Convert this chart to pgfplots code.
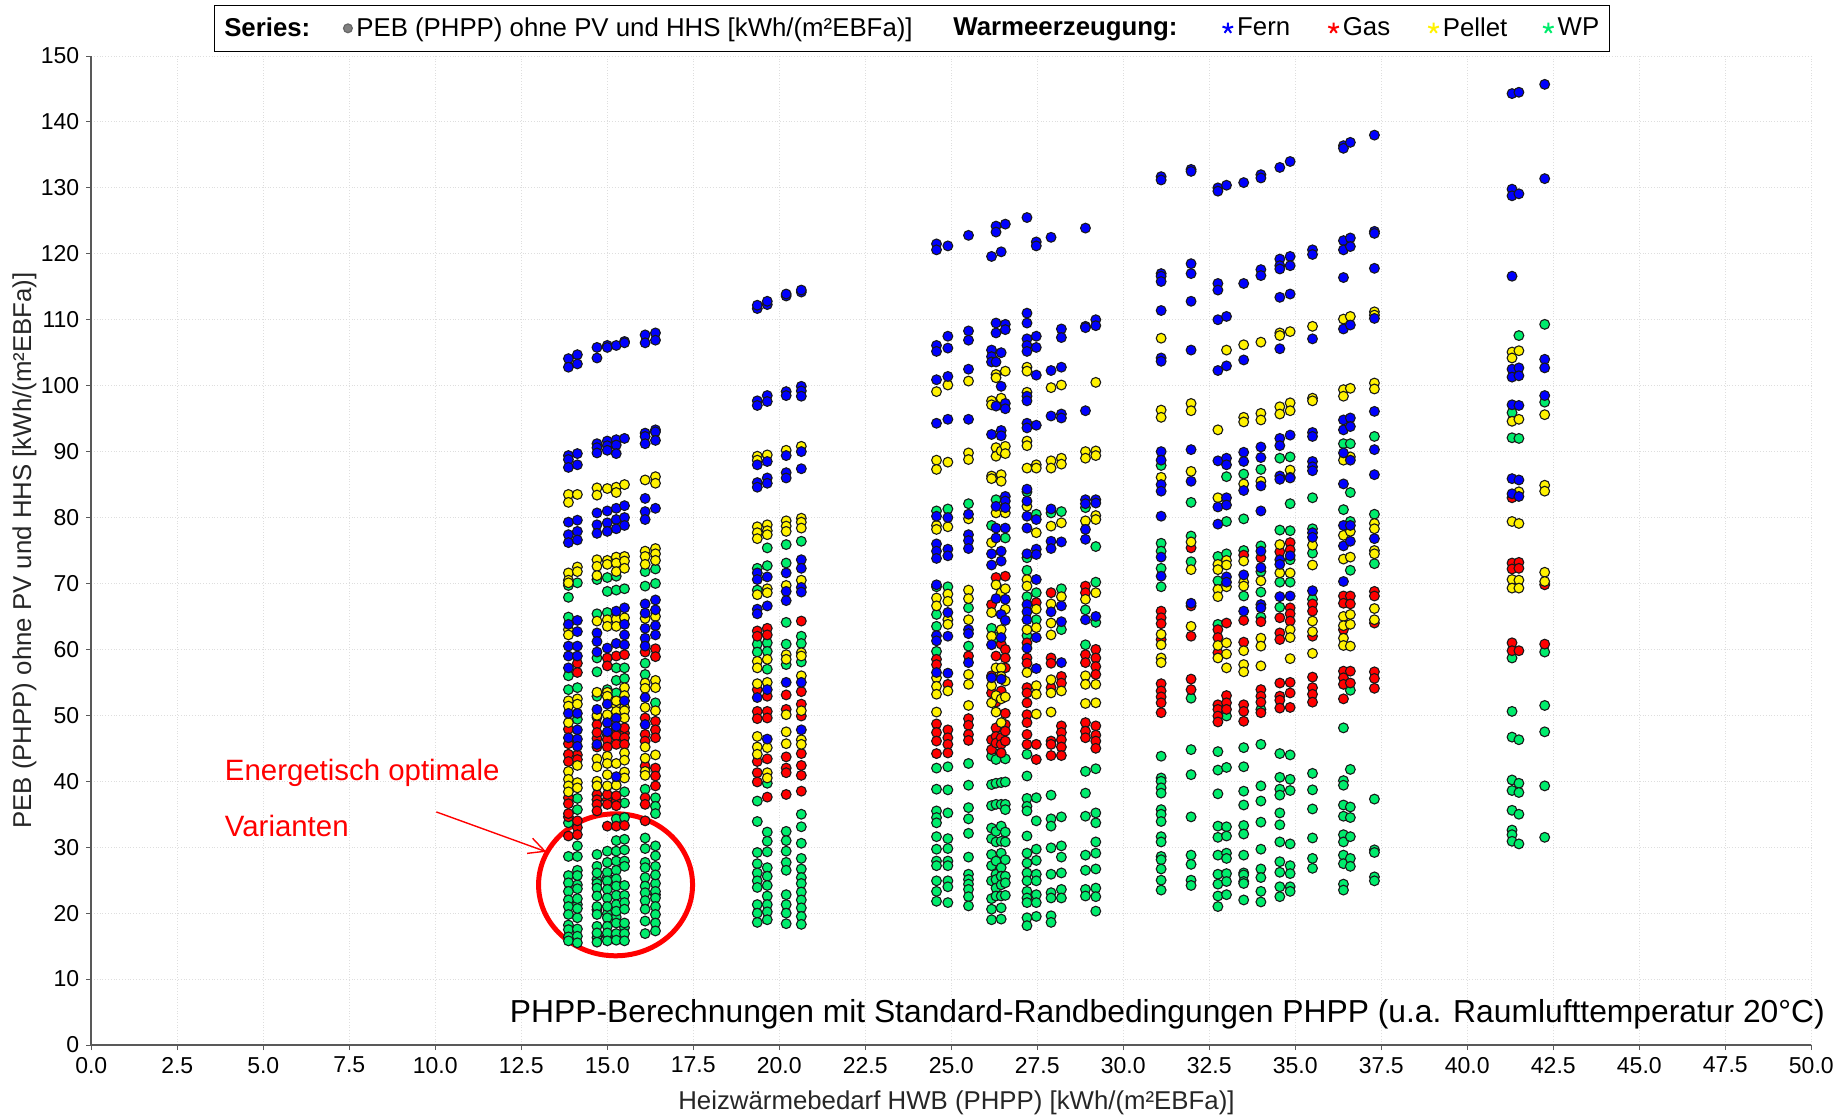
\documentclass[border=0pt]{standalone}
\usepackage{fontspec}
\setmainfont{Liberation Sans}
\usepackage{pgfplots}
\pgfplotsset{compat=1.18}
\usetikzlibrary{arrows.meta}
\definecolor{wpgreen}{HTML}{00EC6C}
\pgfplotsset{dots/.style={only marks,mark=*,mark size=2.45pt,forget plot,
  mark options={draw=black!90,line width=0.55pt,fill=#1}}}
\newcommand{\gap}[1]{\hspace{#1}\mbox{}}
\begin{document}
\begin{tikzpicture}
\path[use as bounding box] (-45.65pt,-35.5pt) rectangle (871.85pt,522.5pt);
\begin{axis}[at={(0,0)},anchor=south west,scale only axis,width=860pt,height=494.5pt,
  xmin=0,xmax=50,ymin=0,ymax=150,clip=false,
  axis lines=left,axis line style={-,draw=black!65,line width=0.8pt},
  xtick distance=2.5,ytick distance=10,
  tick style={draw=black!65,line width=0.5pt},tick align=outside,major tick length=2.5pt,
  grid=major,grid style={densely dotted,draw=black!13,line width=0.5pt},
  font=\fontsize{11.5}{14}\selectfont,
  xticklabel style={/pgf/number format/.cd,fixed,fixed zerofill,precision=1,assume math mode=true},
  yticklabel style={/pgf/number format/.cd,fixed,assume math mode=true},
  xlabel={Heizwärmebedarf HWB (PHPP) [kWh/(m²EBFa)]},
  ylabel={PEB (PHPP) ohne PV und HHS [kWh/(m²EBFa)]},
  x label style={at={(axis description cs:0.503,-0.058)},anchor=center,font=\fontsize{12.9}{15}\selectfont,text=black!85},
  y label style={at={(axis description cs:-0.0388,0.5)},anchor=center,font=\fontsize{12.9}{15}\selectfont,text=black!85},
  legend columns=7,
  legend style={at={(axis description cs:0.477,1.028)},anchor=center,draw=black,line width=0.6pt,
    font=\fontsize{12.9}{15}\selectfont,inner xsep=3pt,inner ysep=4pt,
    /tikz/every even column/.style={column sep=0pt}},
  legend cell align=left,
]
\addlegendimage{empty legend}\addlegendentry{\textbf{Series:}\gap{14.6pt}}
\addlegendimage{only marks,mark=*,mark size=2.2pt,mark options={fill=gray,draw=black!60}}\addlegendentry{PEB (PHPP) ohne PV und HHS [kWh/(m²EBFa)]\gap{16.4pt}}
\addlegendimage{empty legend}\addlegendentry{\textbf{Warmeerzeugung:}\gap{20.5pt}}
\addlegendimage{only marks,mark=star,mark size=2.8pt,blue,line width=1pt}\addlegendentry{Fern\gap{17pt}}
\addlegendimage{only marks,mark=star,mark size=2.8pt,red,line width=1pt}\addlegendentry{Gas\gap{17pt}}
\addlegendimage{only marks,mark=star,mark size=2.8pt,yellow,line width=1pt}\addlegendentry{Pellet\gap{15.8pt}}
\addlegendimage{only marks,mark=star,mark size=2.8pt,wpgreen,line width=1pt}\addlegendentry{WP}

% WP
\addplot[dots=wpgreen] coordinates {
(14.7,25.1)(14.7,24.5)(15,25.5)(15,19.9)(15.26,24.7)(15.26,19.4)(15,16.5)(14.7,16.3)(14.7,20.5)(15.5,17.8)(16.4,22.8)(16.4,24.5)(14.13,24.3)(14.13,21.3)(14.13,19.3)
(13.87,69.7)(13.87,67.9)(13.87,64.9)(13.87,56)(13.87,53.9)(13.87,33.7)(13.87,28.6)(13.87,25.7)(13.87,24.6)(13.87,23.3)(13.87,22)(13.87,21)(13.87,19.8)(13.87,18.2)(13.87,17.5)(13.87,16.4)(13.87,15.8)
(14.13,70.1)(14.13,54.2)(14.13,49.4)(14.13,37.4)(14.13,35.7)(14.13,30.2)(14.13,28.6)(14.13,26.5)(14.13,25.7)(14.13,23.7)(14.13,22.2)(14.13,20.7)(14.13,17.6)(14.13,16.5)(14.13,15.5)
(14.7,70.6)(14.7,65.4)(14.7,58.7)(14.7,56.6)(14.7,52.9)(14.7,28.9)(14.7,27.1)(14.7,26.1)(14.7,23.8)(14.7,22.6)(14.7,21)(14.7,19.8)(14.7,18)(14.7,17)(14.7,15.6)
(15,70.9)(15,68.8)(15,65.6)(15,53.9)(15,29.4)(15,27.7)(15,26.2)(15,24.9)(15,23.6)(15,22.3)(15,21)(15,19.3)(15,18)(15,17)(15,15.8)
(15.26,71.1)(15.26,69)(15.26,57.2)(15.26,55.3)(15.26,53.4)(15.26,34.3)(15.26,31)(15.26,29.4)(15.26,27.9)(15.26,26.5)(15.26,25.2)(15.26,24.1)(15.26,22.7)(15.26,21.3)(15.26,20.3)(15.26,18.5)(15.26,16.9)(15.26,15.9)
(15.5,69.2)(15.5,57.2)(15.5,55.6)(15.5,38.4)(15.5,36.7)(15.5,34.5)(15.5,31.2)(15.5,29.6)(15.5,27.9)(15.5,27.1)(15.5,24.2)(15.5,22.7)(15.5,21.6)(15.5,20.6)(15.5,18.5)(15.5,16.9)(15.5,15.8)
(16.1,71.8)(16.1,69.6)(16.1,57.9)(16.1,56.2)(16.1,38.8)(16.1,31.4)(16.1,29.8)(16.1,27.7)(16.1,26.9)(16.1,25.4)(16.1,24.1)(16.1,23.1)(16.1,21.9)(16.1,20.6)(16.1,18.8)(16.1,16.9)
(16.4,72.2)(16.4,70)(16.4,51.9)(16.4,37.5)(16.4,36.2)(16.4,35.1)(16.4,30.2)(16.4,28.7)(16.4,27.1)(16.4,25.8)(16.4,23.3)(16.4,22.3)(16.4,21)(16.4,19.8)(16.4,18.5)(16.4,17.3)
(19.36,72.3)(19.36,69)(19.36,60.8)(19.36,59.6)(19.36,37)(19.36,33.9)(19.36,29.2)(19.36,27.5)(19.36,26.1)(19.36,24.9)(19.36,23.9)(19.36,21.3)(19.36,20)(19.36,18.6)
(19.65,75.4)(19.65,72.7)(19.65,61)(19.65,59.7)(19.65,57)(19.65,39.7)(19.65,32.3)(19.65,30.9)(19.65,29.3)(19.65,26.9)(19.65,25.6)(19.65,24.2)(19.65,22.6)(19.65,21.3)(19.65,20.2)(19.65,19)
(20.2,75.9)(20.2,73.1)(20.2,64.1)(20.2,60.8)(20.2,57.7)(20.2,32.4)(20.2,31)(20.2,29.4)(20.2,27.7)(20.2,26.5)(20.2,22.8)(20.2,21.3)(20.2,20)(20.2,18.4)
(20.64,76.4)(20.64,62)(20.64,60.9)(20.64,58.1)(20.64,35)(20.64,33.1)(20.64,30.6)(20.64,28.3)(20.64,26.7)(20.64,25.4)(20.64,24.5)(20.64,23.2)(20.64,22)(20.64,20.8)(20.64,19.5)(20.64,18.3)
(24.57,81)(24.57,69.5)(24.57,65.3)(24.57,63.5)(24.57,59.7)(24.57,42)(24.57,38.8)(24.57,35.5)(24.57,34.5)(24.57,33.7)(24.57,31.6)(24.57,29.7)(24.57,27.9)(24.57,27.2)(24.57,24.9)(24.57,23.3)(24.57,21.8)
(24.9,81.3)(24.9,69.5)(24.9,42.2)(24.9,38.7)(24.9,35.2)(24.9,31.3)(24.9,29.8)(24.9,27.9)(24.9,27.2)(24.9,24.9)(24.9,24)(24.9,21.6)
(25.5,82.1)(25.5,66.3)(25.5,60.5)(25.5,42.7)(25.5,39.4)(25.5,36)(25.5,34.3)(25.5,32.1)(25.5,28.5)(25.5,25.9)(25.5,25.1)(25.5,24.4)(25.5,23.6)(25.5,22.5)(25.5,21.1)
(26.17,78.8)(26.17,63.2)(26.17,43.8)(26.17,39.5)(26.17,36.3)(26.17,32.9)(26.17,31.3)(26.17,28.9)(26.17,27.2)(26.17,24.9)(26.17,22.2)(26.17,20.6)(26.17,19)
(26.3,82.7)(26.3,61.8)(26.3,43.3)(26.3,39.7)(26.3,36.5)(26.3,32.4)(26.3,30.8)(26.3,27.9)(26.3,25.9)(26.3,25.1)(26.3,23.8)(26.3,22.6)
(26.45,39.8)(26.45,36.5)(26.45,33.2)(26.45,30.9)(26.45,29.1)(26.45,26.9)(26.45,25.6)(26.45,24.3)(26.45,22.6)(26.45,20.8)(26.45,19.1)
(26.57,76.9)(26.57,43.4)(26.57,39.9)(26.57,36.5)(26.57,35.7)(26.57,32.3)(26.57,30.8)(26.57,28.1)(26.57,25.6)(26.57,24.6)(26.57,22.7)
(27.2,83.9)(27.2,73.9)(27.2,72)(27.2,68)(27.2,62.1)(27.2,44.1)(27.2,40.8)(27.2,37.4)(27.2,36.2)(27.2,35.5)(27.2,31.7)(27.2,29.1)(27.2,27.6)(27.2,26.1)(27.2,24.9)(27.2,23.3)(27.2,22.3)(27.2,21.6)(27.2,19.3)(27.2,18.1)
(27.47,80.5)(27.47,68.6)(27.47,64.5)(27.47,37.5)(27.47,34)(27.47,29.7)(27.47,28)(27.47,25.9)(27.47,24.9)(27.47,22.8)(27.47,21.6)(27.47,19.5)
(27.9,80.7)(27.9,37.9)(27.9,34.3)(27.9,33.2)(27.9,29.9)(27.9,25.9)(27.9,23.1)(27.9,22.3)(27.9,19.6)(27.9,18.6)
(28.2,80.9)(28.2,69.2)(28.2,63)(28.2,34.6)(28.2,30.2)(28.2,28.5)(28.2,26.1)(28.2,23.6)(28.2,22.3)
(28.9,81.5)(28.9,66)(28.9,60.7)(28.9,41.5)(28.9,38.2)(28.9,34.7)(28.9,28.8)(28.9,26.5)(28.9,23.6)(28.9,22.6)
(29.2,75.6)(29.2,70.2)(29.2,64.1)(29.2,41.9)(29.2,35.2)(29.2,33.7)(29.2,30.8)(29.2,29.1)(29.2,26.7)(29.2,23.8)(29.2,22.5)(29.2,20.3)
(31.1,87.9)(31.1,76.1)(31.1,74.9)(31.1,72.3)(31.1,69.5)(31.1,43.8)(31.1,40.5)(31.1,40)(31.1,39)(31.1,38.2)(31.1,35.7)(31.1,35)(31.1,33.9)(31.1,31.6)(31.1,30.8)(31.1,28.6)(31.1,28.1)(31.1,26.7)(31.1,25)(31.1,23.5)
(31.97,82.3)(31.97,77.2)(31.97,73.3)(31.97,52.6)(31.97,44.8)(31.97,41)(31.97,34.6)(31.97,28.8)(31.97,27.4)(31.97,25)(31.97,24.2)
(32.75,74.1)(32.75,70.4)(32.75,63.8)(32.75,44.5)(32.75,41.7)(32.75,38.1)(32.75,33.2)(32.75,31.5)(32.75,28.8)(32.75,25.9)(32.75,24.4)(32.75,22.6)(32.75,21)
(33,86.2)(33,79.4)(33,74.5)(33,49.9)(33,42.1)(33,33.1)(33,31.7)(33,29.1)(33,28.3)(33,26)(33,24.8)(33,22.8)
(33.5,86.6)(33.5,79.8)(33.5,75)(33.5,68.1)(33.5,45.1)(33.5,42.2)(33.5,38.5)(33.5,36.4)(33.5,33.3)(33.5,32)(33.5,28.8)(33.5,26.1)(33.5,25.8)(33.5,24.8)(33.5,24.5)(33.5,22)
(34,87.3)(34,75.7)(34,71.8)(34,68.7)(34,64.9)(34,50.9)(34,45.6)(34,39.3)(34,37)(34,33.8)(34,29.7)(34,26.7)(34,25.4)(34,23.3)(34,21.7)
(34.55,89)(34.55,78.1)(34.55,70.2)(34.55,66.4)(34.55,44.2)(34.55,40.6)(34.55,38.8)(34.55,37.9)(34.55,35.2)(34.55,33.4)(34.55,30.8)(34.55,27.8)(34.55,26.2)(34.55,24)(34.55,22.5)
(34.85,89.2)(34.85,82.1)(34.85,78)(34.85,73.6)(34.85,70.2)(34.85,44)(34.85,40.3)(34.85,38.6)(34.85,30.5)(34.85,27.2)(34.85,26)(34.85,24)(34.85,23.3)
(35.5,83)(35.5,78.3)(35.5,74.6)(35.5,67.6)(35.5,41.2)(35.5,38.7)(35.5,35.8)(35.5,31.4)(35.5,28.3)(35.5,26.8)
(36.4,91.2)(36.4,81.2)(36.4,48.1)(36.4,40.1)(36.4,39.4)(36.4,36.4)(36.4,34.7)(36.4,31.9)(36.4,30.8)(36.4,28.8)(36.4,27.5)(36.4,24.4)(36.4,23.5)
(36.6,91.2)(36.6,83.8)(36.6,79.4)(36.6,72)(36.6,53.8)(36.6,41.8)(36.6,36.1)(36.6,34.5)(36.6,31.6)(36.6,28.3)(36.6,27.1)
(37.3,92.3)(37.3,80.5)(37.3,73)(37.3,37.3)(37.3,29.6)(37.3,29.2)(37.3,25.5)(37.3,24.9)
(41.3,95.9)(41.3,92.1)(41.3,58.7)(41.3,50.6)(41.3,46.7)(41.3,40.2)(41.3,38.6)(41.3,35.6)(41.3,32.6)(41.3,31.9)(41.3,30.9)
(41.5,107.6)(41.5,92)(41.5,46.3)(41.5,39.7)(41.5,38.3)(41.5,35)(41.5,30.5)
(42.25,109.3)(42.25,97.5)(42.25,59.6)(42.25,51.5)(42.25,47.5)(42.25,39.3)(42.25,31.5)
};
% Gas
\addplot[dots=red] coordinates {
(14.7,46.5)(14.7,49.7)(15,47)(15.26,47.9)(15.5,47.3)(13.87,37.5)(13.87,34.6)(14.13,33)(14.13,44)(14.7,38)(15,37.2)(15.26,37)
(13.87,47.9)(13.87,45.7)(13.87,44.1)(13.87,43)(13.87,36.6)(13.87,35.1)(13.87,31.7)
(14.13,57.9)(14.13,56.5)(14.13,43.3)(14.13,34)(14.13,31.9)
(14.7,48.6)(14.7,47.4)(14.7,45.2)(14.7,37.2)(14.7,36.5)(14.7,35.5)
(15,58.7)(15,57.5)(15,46.3)(15,45.2)(15,38)(15,36.5)(15,33.2)
(15.26,59)(15.26,46.9)(15.26,45.6)(15.26,37.8)(15.26,36.3)(15.26,33.2)
(15.5,59.2)(15.5,48.1)(15.5,46.6)(15.5,45.6)(15.5,33.3)
(16.1,59.6)(16.1,49.6)(16.1,47.1)(16.1,46.1)(16.1,42.3)(16.1,37.5)(16.1,36.5)(16.1,34)
(16.4,60.1)(16.4,58.9)(16.4,49.1)(16.4,47.8)(16.4,46.6)(16.4,42)(16.4,40.8)(16.4,39.3)
(19.36,62.8)(19.36,62)(19.36,53.9)(19.36,50.6)(19.36,49.5)(19.36,43)(19.36,41.3)(19.36,39.9)
(19.65,63.2)(19.65,62.2)(19.65,52.9)(19.65,50.6)(19.65,49.6)(19.65,43.4)(19.65,37.6)
(20.2,53.1)(20.2,50.9)(20.2,43.7)(20.2,42)(20.2,41.3)(20.2,38)
(20.64,64.3)(20.64,53.6)(20.64,51.7)(20.64,49.9)(20.64,44.2)(20.64,42.4)(20.64,40.9)(20.64,38.5)
(24.57,58.5)(24.57,57.7)(24.57,48.7)(24.57,47.4)(24.57,46.1)(24.57,44.2)
(24.9,54.7)(24.9,47.8)(24.9,46.6)(24.9,45.6)(24.9,44.3)
(25.5,59)(25.5,49.5)(25.5,48.5)(25.5,47.1)(25.5,46.2)
(26.17,66.8)(26.17,53.4)(26.17,46.3)(26.17,44.8)(26.17,56)
(26.3,70.9)(26.3,59)(26.3,52)(26.3,48.1)(26.3,46.8)(26.3,45.8)
(26.45,53.7)(26.45,46.6)(26.45,45.6)(26.45,44.3)(26.45,60.8)
(26.57,71.1)(26.57,60)(26.57,58.7)(26.57,57.2)(26.57,50.3)(26.57,48.6)(26.57,47.6)(26.57,46.1)
(27.2,61)(27.2,58.7)(27.2,57.9)(27.2,54.2)(27.2,53.4)(27.2,51.9)(27.2,50.1)(27.2,48.9)(27.2,47.1)(27.2,45.6)
(27.47,67.1)(27.47,45.6)(27.47,43.3)
(27.9,68.6)(27.9,58.7)(27.9,57.9)(27.9,54.2)(27.9,46.1)(27.9,45.6)(27.9,43.9)
(28.2,55.9)(28.2,54.9)(28.2,48.4)(28.2,47.4)(28.2,46.3)(28.2,45.2)(28.2,43.9)
(28.9,69.6)(28.9,68.6)(28.9,59.2)(28.9,58)(28.9,48.9)(28.9,47.6)(28.9,46.6)
(29.2,60)(29.2,58.7)(29.2,57.4)(29.2,56.2)(29.2,48.4)(29.2,47)(29.2,46.1)(29.2,45)
(31.1,65.8)(31.1,64.8)(31.1,63.9)(31.1,61.5)(31.1,54.8)(31.1,53.7)(31.1,52.8)(31.1,51.9)(31.1,50.4)
(31.97,75.4)(31.97,66.6)(31.97,62)(31.97,55.5)(31.97,53.9)
(32.75,63)(32.75,61.8)(32.75,59.5)(32.75,51.6)(32.75,50.9)(32.75,49.9)(32.75,49)
(33,64)(33,53)(33,51.9)(33,50.9)
(33.5,74.3)(33.5,64.4)(33.5,61.1)(33.5,51.6)(33.5,50.6)(33.5,49.1)
(34,73.9)(34,64.2)(34,53.9)(34,52.9)(34,52)(34,50.4)
(34.55,74.8)(34.55,64.8)(34.55,62.5)(34.55,61.5)(34.55,54.9)(34.55,52.9)(34.55,52.3)(34.55,51.1)
(34.85,76.2)(34.85,75.1)(34.85,66.3)(34.85,65.4)(34.85,64.3)(34.85,55)(34.85,53.4)(34.85,51.2)
(35.5,66.9)(35.5,65.8)(35.5,62)(35.5,55.8)(35.5,54.2)(35.5,53.2)(35.5,52)
(36.4,68.1)(36.4,67)(36.4,63)(36.4,56.7)(36.4,55.7)(36.4,54.7)(36.4,52.5)
(36.6,68.1)(36.6,66.9)(36.6,56.7)(36.6,54.9)
(37.3,68.8)(37.3,68.1)(37.3,64)(37.3,56.6)(37.3,55.6)(37.3,54.1)
(41.3,83)(41.3,73.1)(41.3,72.2)(41.3,61)(41.3,59.8)
(41.5,73.2)(41.5,72.3)(41.5,59.8)
(42.25,69.8)(42.25,60.8)
};
% Pellet
\addplot[dots=yellow] coordinates {
(14.7,53.5)(15,53.5)(15.26,51.5)(15.5,51.2)
(13.87,83.5)(13.87,82.3)(13.87,71.6)(13.87,70.5)(13.87,70.1)(13.87,63)(13.87,62.2)(13.87,52.2)(13.87,51.4)(13.87,48.9)(13.87,41.5)(13.87,40.3)(13.87,39.3)(13.87,38.4)
(14.13,83.5)(14.13,72.5)(14.13,71.8)(14.13,52.5)(14.13,51.7)(14.13,42.4)(14.13,39.8)(14.13,39)
(14.7,84.5)(14.7,83.4)(14.7,73.6)(14.7,72.6)(14.7,71.2)(14.7,64.3)(14.7,50)(14.7,43.4)(14.7,42.2)(14.7,40)(14.7,39.3)
(15,84.4)(15,73.5)(15,72.9)(15,64.5)(15,63.5)(15,52.9)(15,50.1)(15,43.8)(15,42.7)(15,41)(15,39.3)
(15.26,84.6)(15.26,83.8)(15.26,74)(15.26,73.1)(15.26,71.8)(15.26,64.6)(15.26,63.5)(15.26,52.2)(15.26,50.6)(15.26,42.7)(15.26,39.4)
(15.5,85)(15.5,74.1)(15.5,73.4)(15.5,72.3)(15.5,64.8)(15.5,54.2)(15.5,53)(15.5,50.7)(15.5,49.6)(15.5,44.3)(15.5,43.2)(15.5,41.4)(15.5,40.5)
(16.1,85.7)(16.1,74.9)(16.1,74.1)(16.1,72.9)(16.1,64.7)(16.1,54.9)(16.1,54.1)(16.1,51.2)(16.1,45.2)(16.1,43.5)(16.1,41.5)(16.1,40.9)
(16.4,86.2)(16.4,85.2)(16.4,75.3)(16.4,74.5)(16.4,73.5)(16.4,65)(16.4,55.3)(16.4,54.2)(16.4,50.7)(16.4,44)
(19.36,89.3)(19.36,88.7)(19.36,78.6)(19.36,77.7)(19.36,76.8)(19.36,68.3)(19.36,58.2)(19.36,57.2)(19.36,54.8)(19.36,46.8)(19.36,45.2)(19.36,44.1)
(19.65,89.5)(19.65,78.9)(19.65,78)(19.65,77.4)(19.65,69.2)(19.65,68.6)(19.65,58.5)(19.65,55)(19.65,45.1)(19.65,41.3)(19.65,40.5)
(20.2,90.2)(20.2,79.5)(20.2,78.7)(20.2,77.9)(20.2,69.7)(20.2,59.2)(20.2,58.5)(20.2,50.1)(20.2,47.5)(20.2,45.7)
(20.64,90.8)(20.64,79.9)(20.64,79.3)(20.64,78.4)(20.64,70.5)(20.64,59.5)(20.64,59)(20.64,56)(20.64,50.7)(20.64,46.3)(20.64,45.6)
(24.57,99.1)(24.57,88.7)(24.57,87.3)(24.57,78.8)(24.57,78.2)(24.57,67.8)(24.57,66.6)(24.57,55.7)(24.57,54.4)(24.57,53.2)(24.57,50.5)
(24.9,100.1)(24.9,88.4)(24.9,78.6)(24.9,68.4)(24.9,67.3)(24.9,64.5)(24.9,63.8)(24.9,53.7)
(25.5,100.7)(25.5,89.8)(25.5,88.8)(25.5,79.8)(25.5,69)(25.5,67.7)(25.5,64.5)(25.5,56.2)(25.5,54.7)(25.5,51.5)
(26.17,97.7)(26.17,97.1)(26.17,86.3)(26.17,85.9)(26.17,76.2)(26.17,65.6)(26.17,62)(26.17,51.9)(26.17,54.5)
(26.3,101.7)(26.3,101.2)(26.3,90.6)(26.3,89.3)(26.3,80.7)(26.3,69.8)(26.3,57.2)(26.3,53)(26.3,50.5)
(26.45,98.1)(26.45,90.1)(26.45,86.5)(26.45,85.5)(26.45,68.6)(26.45,63)(26.45,57.2)(26.45,55.9)(26.45,52.5)(26.45,48.9)
(26.57,102.2)(26.57,90.8)(26.57,89.7)(26.57,80.7)(26.57,69.2)(26.57,66.1)(26.57,55.2)(26.57,52.8)
(27.2,102.8)(27.2,102.2)(27.2,99)(27.2,91.6)(27.2,90.9)(27.2,87.5)(27.2,81.7)(27.2,70.6)(27.2,69.6)(27.2,63)(27.2,56.5)
(27.47,88)(27.47,87.5)(27.47,77.7)(27.47,66.1)(27.47,63.3)(27.47,54.5)(27.47,53.2)(27.47,50.2)
(27.9,99.7)(27.9,88.6)(27.9,87.5)(27.9,78.7)(27.9,66.9)(27.9,64)(27.9,62.2)(27.9,55.4)(27.9,53.4)(27.9,50.5)
(28.2,100.1)(28.2,89)(28.2,88.1)(28.2,79.2)(28.2,68)(28.2,53.7)
(28.9,90)(28.9,89)(28.9,79.5)(28.9,67.6)(28.9,56)(28.9,54.7)(28.9,51.8)
(29.2,100.5)(29.2,90.1)(29.2,89.4)(29.2,80.3)(29.2,79.7)(29.2,68.6)(29.2,54.7)(29.2,51.9)
(31.1,107.2)(31.1,96.3)(31.1,95.2)(31.1,86.1)(31.1,62.3)(31.1,60.7)(31.1,58.7)(31.1,58)
(31.97,97.3)(31.97,96.2)(31.97,87)(31.97,76.3)(31.97,72.1)(31.97,63.5)
(32.75,93.3)(32.75,83)(32.75,72.9)(32.75,72.1)(32.75,69.1)(32.75,68)(32.75,60.6)(32.75,58.7)
(33,105.4)(33,73.5)(33,72.8)(33,69.5)(33,61)(33,59.3)(33,57.2)
(33.5,106.2)(33.5,95.2)(33.5,94.5)(33.5,85.1)(33.5,73.4)(33.5,70.2)(33.5,69.6)(33.5,59.8)(33.5,57.7)(33.5,56.6)
(34,106.6)(34,95.8)(34,94.8)(34,85.5)(34,70.4)(34,61.7)(34,60.5)(34,57.5)
(34.55,108)(34.55,107.6)(34.55,96.8)(34.55,95.7)(34.55,75.9)(34.55,71.6)
(34.85,108.2)(34.85,97.4)(34.85,96.2)(34.85,87.2)(34.85,71.6)(34.85,63)(34.85,61.8)(34.85,58.6)
(35.5,109)(35.5,98.1)(35.5,97.7)(35.5,75.8)(35.5,72.8)(35.5,64.3)(35.5,62.7)(35.5,59.4)
(36.4,110.1)(36.4,99.4)(36.4,98.4)(36.4,88.7)(36.4,77.3)(36.4,73.7)(36.4,65)(36.4,63.6)(36.4,61.7)(36.4,60.6)
(36.6,110.5)(36.6,99.6)(36.6,89.2)(36.6,77.9)(36.6,74)(36.6,65.3)(36.6,63.8)(36.6,60.5)
(37.3,111.2)(37.3,110.7)(37.3,100.4)(37.3,99.5)(37.3,79.1)(37.3,78.3)(37.3,75)(37.3,74.5)(37.3,66.2)(37.3,64.5)
(41.3,105.1)(41.3,104.2)(41.3,94.6)(41.3,79.4)(41.3,70.6)(41.3,69.3)
(41.5,105.3)(41.5,94.9)(41.5,83.9)(41.5,79.1)(41.5,70.5)(41.5,69.3)
(42.25,95.6)(42.25,84.9)(42.25,84)(42.25,71.7)(42.25,70.3)
};
% Fern
\addplot[dots=blue] coordinates {
(19.36,111.7)(19.36,112.2)(19.65,112.3)(19.65,112.8)(20.2,113.6)(20.2,113.9)(20.64,114.2)(20.64,114.5)(15,48.9)
(13.87,104.1)(13.87,102.8)(13.87,89.4)(13.87,88.8)(13.87,87.6)(13.87,79.3)(13.87,77.4)(13.87,76.2)(13.87,63.8)(13.87,60.5)(13.87,59)(13.87,57.2)(13.87,50.3)(13.87,46.6)
(14.13,104.7)(14.13,103.3)(14.13,89.7)(14.13,88)(14.13,79.6)(14.13,77.9)(14.13,76.6)(14.13,64.4)(14.13,62.7)(14.13,60.5)(14.13,59)(14.13,50.3)(14.13,47.8)(14.13,46.4)(14.13,45.3)
(14.7,105.8)(14.7,104.2)(14.7,91.2)(14.7,90.6)(14.7,89.8)(14.7,80.7)(14.7,78.9)(14.7,77.6)(14.7,62.5)(14.7,61.2)(14.7,59.6)(14.7,50.9)(14.7,45.6)
(15,106.1)(15,105.8)(15,91.6)(15,90.9)(15,90.2)(15,81)(15,79.2)(15,77.9)(15,60.2)(15,51.7)(15,47.5)
(15.26,106.1)(15.26,91.8)(15.26,91)(15.26,89.7)(15.26,81.4)(15.26,79.7)(15.26,78.3)(15.26,65.8)(15.26,60.9)(15.26,49.6)(15.26,48.3)(15.26,40.7)
(15.5,106.7)(15.5,106.5)(15.5,92)(15.5,81.8)(15.5,80)(15.5,78.8)(15.5,66.3)(15.5,63.8)(15.5,62.2)(15.5,60.7)(15.5,52.2)
(16.1,107.7)(16.1,106.5)(16.1,92.8)(16.1,92.3)(16.1,91.2)(16.1,82.9)(16.1,80.9)(16.1,79.7)(16.1,66.9)(16.1,65.5)(16.1,63.2)(16.1,61.7)(16.1,60.5)(16.1,52.7)(16.1,48.6)
(16.4,108)(16.4,106.9)(16.4,93.3)(16.4,93)(16.4,91.7)(16.4,81.4)(16.4,67.5)(16.4,66)(16.4,63.6)(16.4,62.2)
(19.36,97.7)(19.36,97)(19.36,88)(19.36,85.3)(19.36,84.6)(19.36,71.6)(19.36,70.6)(19.36,66.1)(19.36,65.4)(19.36,52.7)
(19.65,98.5)(19.65,97.6)(19.65,88.5)(19.65,86)(19.65,85.2)(19.65,71)(19.65,66.6)(19.65,53.9)(19.65,46.4)
(20.2,99.1)(20.2,98.5)(20.2,89.4)(20.2,86.8)(20.2,86)(20.2,71.6)(20.2,68.8)(20.2,67.4)(20.2,55)
(20.64,99.9)(20.64,99.2)(20.64,98.4)(20.64,90)(20.64,87.4)(20.64,73.6)(20.64,72.3)(20.64,69.4)(20.64,68.7)(20.64,55)(20.64,47.8)
(24.57,121.5)(24.57,120.6)(24.57,106.1)(24.57,105.2)(24.57,100.9)(24.57,94.3)(24.57,80.2)(24.57,76)(24.57,74.9)(24.57,73.8)(24.57,69.8)(24.57,62.1)(24.57,61.3)(24.57,56.5)
(24.9,121.2)(24.9,107.5)(24.9,105.7)(24.9,101.4)(24.9,94.9)(24.9,80)(24.9,75.2)(24.9,74.2)(24.9,65.6)(24.9,62)(24.9,56.4)
(25.5,122.8)(25.5,108.3)(25.5,106.9)(25.5,102.5)(25.5,94.9)(25.5,80.5)(25.5,77.4)(25.5,76.5)(25.5,75.3)(25.5,63)(25.5,62.4)(25.5,58)
(26.17,119.6)(26.17,105.4)(26.17,104.4)(26.17,103.6)(26.17,92.6)(26.17,74.5)(26.17,72.8)(26.17,60.7)(26.17,55.7)
(26.3,124.2)(26.3,123.3)(26.3,109.5)(26.3,108)(26.3,103.6)(26.3,96.9)(26.3,81.7)(26.3,78.4)(26.3,76.9)(26.3,67.7)
(26.45,120.3)(26.45,105)(26.45,99.9)(26.45,93.2)(26.45,92.4)(26.45,74.9)(26.45,73.4)(26.45,65.3)(26.45,61.8)(26.45,55.5)
(26.57,124.5)(26.57,109.3)(26.57,108.5)(26.57,97.3)(26.57,96.5)(26.57,83.2)(26.57,82.5)(26.57,81.5)(26.57,78.4)(26.57,67.6)(26.57,64.4)
(27.2,125.5)(27.2,111)(27.2,109.5)(27.2,107.1)(27.2,106.1)(27.2,105.2)(27.2,98.4)(27.2,97.7)(27.2,94.3)(27.2,93.6)(27.2,84.3)(27.2,82.5)(27.2,80.2)(27.2,78.4)(27.2,74.5)(27.2,66.8)(27.2,65.7)(27.2,64.5)(27.2,60.2)
(27.47,121.8)(27.47,121.2)(27.47,107.5)(27.47,105.8)(27.47,101.6)(27.47,94)(27.47,79.7)(27.47,75.2)(27.47,74.4)(27.47,70.6)(27.47,61.8)(27.47,57.1)
(27.9,122.5)(27.9,102.3)(27.9,95.4)(27.9,81.3)(27.9,76.4)(27.9,75.3)(27.9,65.7)
(28.2,108.6)(28.2,107.3)(28.2,102.8)(28.2,95.7)(28.2,95.1)(28.2,76.3)(28.2,66.6)(28.2,64.2)(28.2,58)
(28.9,123.9)(28.9,109)(28.9,108.8)(28.9,96.2)(28.9,82.7)(28.9,82.1)(28.9,78.2)(28.9,76.7)(28.9,64.5)
(29.2,110)(29.2,109.1)(29.2,82.7)(29.2,82.2)(29.2,65)
(31.1,131.7)(31.1,131.2)(31.1,117)(31.1,116.6)(31.1,115.8)(31.1,111.4)(31.1,104.2)(31.1,103.7)(31.1,90)(31.1,88.7)(31.1,85)(31.1,84)(31.1,80.2)(31.1,74)(31.1,71.1)
(31.97,132.8)(31.97,132.5)(31.97,118.5)(31.97,117)(31.97,112.8)(31.97,105.4)(31.97,90.3)(31.97,85.5)(31.97,67)
(32.75,130)(32.75,129.5)(32.75,115.5)(32.75,114.5)(32.75,110)(32.75,102.3)(32.75,88.6)(32.75,81.6)(32.75,79)
(33,130.4)(33,110.5)(33,103)(33,89)(33,88)(33,83)(33,81.9)(33,71)(33,70.2)
(33.5,130.8)(33.5,115.5)(33.5,103.9)(33.5,89.9)(33.5,88.5)(33.5,84.1)(33.5,71.3)(33.5,65.8)
(34,132)(34,131.5)(34,117.6)(34,116.7)(34,90.7)(34,89.1)(34,84.8)(34,81)(34,74.9)(34,72.4)(34,66.8)(34,66.3)
(34.55,133.1)(34.55,119.2)(34.55,118.2)(34.55,117.7)(34.55,113.4)(34.55,105.6)(34.55,92)(34.55,90.9)(34.55,86.3)(34.55,85.8)(34.55,73.6)(34.55,72.9)(34.55,68)
(34.85,134)(34.85,119.6)(34.85,118.2)(34.85,113.9)(34.85,92.5)(34.85,86.1)(34.85,86)(34.85,74.2)(34.85,68.1)
(35.5,120.6)(35.5,119.9)(35.5,107.1)(35.5,92.9)(35.5,92.3)(35.5,88.5)(35.5,87.7)(35.5,87.1)(35.5,77.7)(35.5,77)(35.5,68.9)
(36.4,136.4)(36.4,136)(36.4,122)(36.4,120.6)(36.4,116.4)(36.4,108.6)(36.4,94.8)(36.4,93.3)(36.4,89.8)(36.4,85.1)(36.4,78.8)(36.4,75.7)(36.4,70.3)
(36.6,136.9)(36.6,122.4)(36.6,121.1)(36.6,109.2)(36.6,95.1)(36.6,93.8)(36.6,88.7)(36.6,78.8)(36.6,76.4)
(37.3,138)(37.3,123.4)(37.3,123.1)(37.3,117.8)(37.3,110.2)(37.3,96.1)(37.3,90.3)(37.3,86.5)(37.3,76.8)
(41.3,144.3)(41.3,129.8)(41.3,128.8)(41.3,116.6)(41.3,102.5)(41.3,101.3)(41.3,97.1)(41.3,85.9)(41.3,83.6)
(41.5,144.5)(41.5,129.1)(41.5,102.7)(41.5,101.5)(41.5,97)(41.5,85.7)(41.5,83.2)
(42.25,145.7)(42.25,131.4)(42.25,104)(42.25,102.7)(42.25,98.5)
};
% annotations
\draw[red,line width=2.5pt] (axis cs:15.24,24.3) ellipse [x radius=38.5pt,y radius=35.5pt];
\draw[red,line width=0.7pt,-{Straight Barb[length=8pt,width=8pt]}] (axis cs:10.03,35.35) -- (axis cs:13.23,29.3);
\node[anchor=west,text=red,font=\fontsize{14.7}{17}\selectfont] at (axis cs:3.68,41.2) {Energetisch optimale};
\node[anchor=west,text=red,font=\fontsize{14.7}{17}\selectfont] at (axis cs:3.68,33.2) {Varianten};
\node[anchor=east,font=\fontsize{15.9}{18}\selectfont] at (axis cs:50.6,4.6) {PHPP-Berechnungen mit Standard-Randbedingungen PHPP (u.a. Raumlufttemperatur 20°C)};
\end{axis}
\end{tikzpicture}
\end{document}
